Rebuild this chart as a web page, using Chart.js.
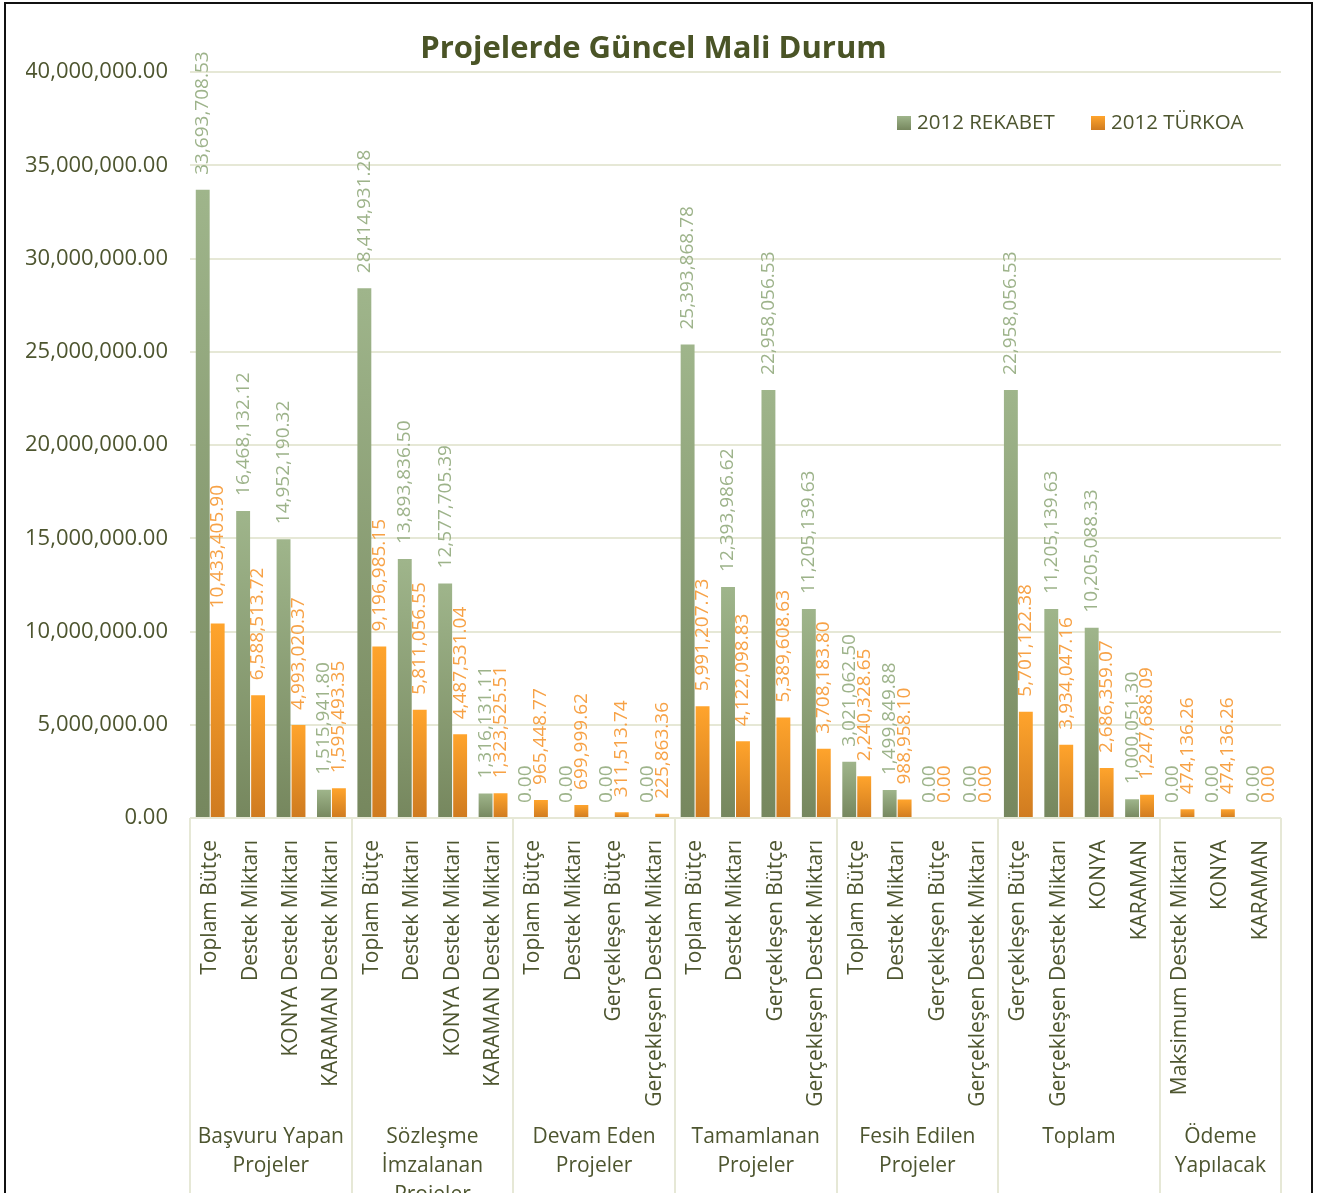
<!DOCTYPE html>
<html>
<head>
<meta charset="utf-8">
<title>Projelerde Güncel Mali Durum</title>
<script src="https://cdn.jsdelivr.net/npm/chart.js@4.4.1/dist/chart.umd.min.js"></script>
<style>
    html, body { margin: 0; padding: 0; background: #fff; overflow: hidden; }
    #wrap { position: relative; width: 1323px; height: 1193px; }
</style>
</head>
<body>
<div id="wrap"><canvas id="maliChart" width="1323" height="1193"></canvas></div>
<script>
// Category labels (bottom level) and group labels (top level)
const categories = [
    'Toplam Bütçe', 'Destek Miktarı', 'KONYA Destek Miktarı', 'KARAMAN Destek Miktarı',
    'Toplam Bütçe', 'Destek Miktarı', 'KONYA Destek Miktarı', 'KARAMAN Destek Miktarı',
    'Toplam Bütçe', 'Destek Miktarı', 'Gerçekleşen Bütçe', 'Gerçekleşen Destek Miktarı',
    'Toplam Bütçe', 'Destek Miktarı', 'Gerçekleşen Bütçe', 'Gerçekleşen Destek Miktarı',
    'Toplam Bütçe', 'Destek Miktarı', 'Gerçekleşen Bütçe', 'Gerçekleşen Destek Miktarı',
    'Gerçekleşen Bütçe', 'Gerçekleşen Destek Miktarı', 'KONYA', 'KARAMAN',
    'Maksimum Destek Miktarı', 'KONYA', 'KARAMAN'
];
const groupNames = [
    ['Başvuru Yapan', 'Projeler'],
    ['Sözleşme', 'İmzalanan', 'Projeler'],
    ['Devam Eden', 'Projeler'],
    ['Tamamlanan', 'Projeler'],
    ['Fesih Edilen', 'Projeler'],
    ['Toplam'],
    ['Ödeme', 'Yapılacak']
];
const groupSizes = [4, 4, 4, 4, 4, 4, 3];

const seriesNames = ['2012 REKABET', '2012 TÜRKOA'];
const rekabet = [
    33693708.53, 16468132.12, 14952190.32, 1515941.80,
    28414931.28, 13893836.50, 12577705.39, 1316131.11,
    0, 0, 0, 0,
    25393868.78, 12393986.62, 22958056.53, 11205139.63,
    3021062.50, 1499849.88, 0, 0,
    22958056.53, 11205139.63, 10205088.33, 1000051.30,
    0, 0, 0
];
const turkoa = [
    10433405.90, 6588513.72, 4993020.37, 1595493.35,
    9196985.15, 5811056.55, 4487531.04, 1323525.51,
    965448.77, 699999.62, 311513.74, 225863.36,
    5991207.73, 4122098.83, 5389608.63, 3708183.80,
    2240328.65, 988958.10, 0, 0,
    5701122.38, 3934047.16, 2686359.07, 1247688.09,
    474136.26, 474136.26, 0
];

const yMax = 40000000;
const yStep = 5000000;

const FONT = "'Open Sans', 'Noto Sans', sans-serif";
const TEXT_COLOR = '#4d552f';
const GRID_COLOR = '#e6e8d6';
const GREEN = { top: '#9fb58b', bottom: '#76875e', label: '#9db38a' };
const ORANGE = { top: '#ffa42c', bottom: '#cf7b20', label: '#f7a246' };

function formatNum(v) {
    return v.toLocaleString('en-US', { minimumFractionDigits: 2, maximumFractionDigits: 2 });
}

// per-bar vertical gradient
function barFill(pal) {
    return (ctx) => {
        const chart = ctx.chart;
        if (!chart.chartArea || ctx.type !== 'data') return pal.bottom;
        const yScale = chart.scales.y;
        const top = yScale.getPixelForValue(ctx.raw);
        const base = yScale.getPixelForValue(0);
        if (base - top < 1) return pal.bottom;
        const g = chart.ctx.createLinearGradient(0, top, 0, base);
        g.addColorStop(0, pal.top);
        g.addColorStop(1, pal.bottom);
        return g;
    };
}

// frame, value labels, legend, group labels
const decorPlugin = {
    id: 'decor',
    afterDraw(chart) {
        const { ctx, chartArea } = chart;
        const xScale = chart.scales.x;
        ctx.save();

        // outer frame
        ctx.strokeStyle = '#111';
        ctx.lineWidth = 2;
        ctx.strokeRect(5, 3, 1307, 1210);

        // group separators + group labels
        const step = (chartArea.right - chartArea.left) / categories.length;
        ctx.strokeStyle = GRID_COLOR;
        ctx.lineWidth = 2;
        let idx = 0;
        const edges = [chartArea.left];
        groupSizes.forEach(n => {
            idx += n;
            edges.push(xScale.getPixelForValue(idx - 1) + step / 2);
        });
        edges.forEach(x => {
            ctx.beginPath();
            ctx.moveTo(Math.round(x), chartArea.bottom);
            ctx.lineTo(Math.round(x), 1193);
            ctx.stroke();
        });
        ctx.fillStyle = TEXT_COLOR;
        ctx.font = '21px ' + FONT;
        ctx.textAlign = 'center';
        ctx.textBaseline = 'middle';
        groupNames.forEach((lines, g) => {
            const cx = (edges[g] + edges[g + 1]) / 2;
            lines.forEach((line, k) => ctx.fillText(line, cx, 1137 + k * 29));
        });

        // legend
        const legendItems = [
            { x: 897, pal: GREEN, text: seriesNames[0] },
            { x: 1091, pal: ORANGE, text: seriesNames[1] }
        ];
        ctx.textAlign = 'left';
        ctx.font = '20.5px ' + FONT;
        legendItems.forEach(it => {
            const g = ctx.createLinearGradient(0, 116, 0, 130);
            g.addColorStop(0, it.pal.top);
            g.addColorStop(1, it.pal.bottom);
            ctx.fillStyle = g;
            ctx.fillRect(it.x, 116, 14, 14);
            ctx.fillStyle = TEXT_COLOR;
            ctx.fillText(it.text, it.x + 20, 123);
        });
        ctx.restore();
    },
    afterDatasetsDraw(chart) {
        const { ctx } = chart;
        ctx.save();
        ctx.font = '19px ' + FONT;
        ctx.textAlign = 'left';
        ctx.textBaseline = 'middle';
        chart.data.datasets.forEach((ds, i) => {
            const meta = chart.getDatasetMeta(i);
            ctx.fillStyle = i === 0 ? GREEN.label : ORANGE.label;
            meta.data.forEach((bar, j) => {
                ctx.save();
                ctx.translate(bar.x, bar.y - 15);
                ctx.rotate(-Math.PI / 2);
                ctx.fillText(formatNum(ds.data[j]), 0, 0);
                ctx.restore();
            });
        });
        ctx.restore();
    }
};

const chart = new Chart(document.getElementById('maliChart').getContext('2d'), {
    type: 'bar',
    data: {
        labels: categories,
        datasets: [
            {
                label: seriesNames[0],
                data: rekabet,
                backgroundColor: barFill(GREEN),
                categoryPercentage: 0.74,
                barPercentage: 0.93
            },
            {
                label: seriesNames[1],
                data: turkoa,
                backgroundColor: barFill(ORANGE),
                categoryPercentage: 0.74,
                barPercentage: 0.93
            }
        ]
    },
    options: {
        responsive: false,
        animation: false,
        layout: { padding: { top: 10, left: 26, right: 42, bottom: 0 } },
        plugins: {
            legend: { display: false },
            tooltip: { enabled: false },
            title: {
                display: true,
                text: 'Projelerde Güncel Mali Durum',
                color: '#4a5426',
                font: { family: FONT, size: 31, weight: 'bold', lineHeight: 1.2 },
                padding: { top: 21, bottom: 4 }
            }
        },
        scales: {
            x: {
                grid: { display: false },
                border: { display: false },
                ticks: {
                    autoSkip: false,
                    minRotation: 90,
                    maxRotation: 90,
                    padding: 14,
                    color: TEXT_COLOR,
                    font: { family: FONT, size: 21 }
                },
                afterFit(scale) { scale.height = 375; }
            },
            y: {
                min: 0,
                max: yMax,
                border: { display: false },
                grid: { color: GRID_COLOR, lineWidth: 2, drawTicks: false },
                ticks: {
                    stepSize: yStep,
                    padding: 22,
                    color: TEXT_COLOR,
                    font: { family: FONT, size: 22 },
                    callback: v => formatNum(v)
                },
                afterFit(scale) { scale.width = 164; }
            }
        }
    },
    plugins: [decorPlugin]
});
</script>
</body>
</html>
